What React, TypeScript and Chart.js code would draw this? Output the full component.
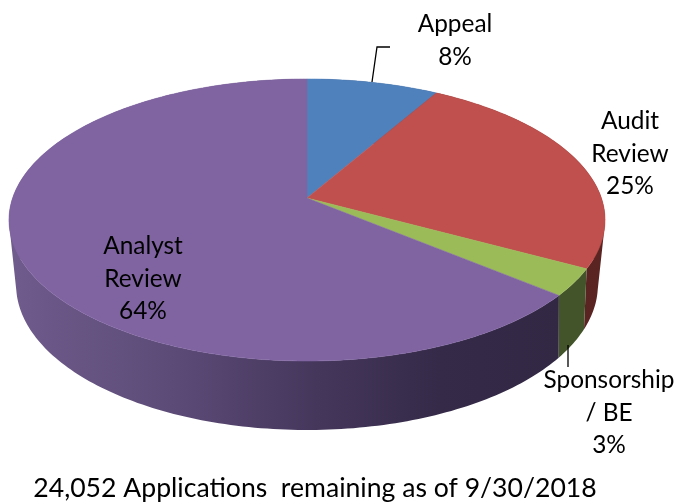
import React, { useEffect, useRef } from "react";
import { Chart, registerables } from "chart.js";

Chart.register(...registerables);

const categories = ["Appeal", "Audit Review", "Sponsorship / BE", "Analyst Review"];
const values = [8.3, 24.6, 3.1, 64];
const faceColors = ["#4F81BD", "#C0504D", "#9BBB59", "#8064A2"];
const labelLines = [["Appeal", "8%"], ["Audit", "Review", "25%"], ["Sponsorship", "/ BE", "3%"], ["Analyst", "Review", "64%"]];
const caption = "24,052 Applications  remaining as of 9/30/2018";

const wallStops: [number, string][][] = [
  [[0, "#2c4a70"], [1, "#2c4a70"]],
  [[0, "#4a1f1e"], [1, "#5a2422"]],
  [[0, "#43542a"], [1, "#43542a"]],
  [[0, "#6f5b8c"], [0.3, "#5b4a76"], [0.55, "#45375c"], [0.78, "#352a48"], [1, "#322844"]],
];

const labelAnchors = [[455, 24], [630, 121], [609, 380], [143, 246]];
const leaders = [
  [[390, 47], [377, 47], [372, 82]],
  [[568, 345], [568, 367]],
];

const CX = 307;
const top = { R: 294.4, S: 137.6, k: 0.156, y0: 198 };
const bottom = { R: 285, S: 139.2, k: 0.2, y0: 256 };

function project(p: typeof top, theta: number): [number, number] {
  const u = Math.sin(theta);
  const v = -Math.cos(theta);
  const w = 1 - p.k * v;
  return [CX + (p.R * u) / w, p.y0 + (p.S * v) / w];
}

function addPoly(ctx: CanvasRenderingContext2D, pts: [number, number][]) {
  let area = 0;
  pts.forEach(([x, y], i) => {
    const [nx, ny] = pts[(i + 1) % pts.length];
    area += x * ny - nx * y;
  });
  const ordered = area < 0 ? pts.slice().reverse() : pts;
  ordered.forEach(([x, y], i) => (i ? ctx.lineTo(x, y) : ctx.moveTo(x, y)));
  ctx.closePath();
}

function arcSamples(a0: number, a1: number): number[] {
  const n = Math.max(2, Math.ceil(((a1 - a0) / Math.PI) * 180));
  const out: number[] = [];
  for (let i = 0; i <= n; i++) out.push(a0 + ((a1 - a0) * i) / n);
  return out;
}

const pie3d = {
  id: "pie3d",
  beforeDatasetsDraw(chart: any) {
    const ctx: CanvasRenderingContext2D = chart.ctx;
    const arcs = chart.getDatasetMeta(0).data;
    ctx.save();
    // side walls: one consistently wound quad per angular step, filled as a single path
    const xMin = 16;
    const xMax = 598;
    arcs.forEach((arc: any, i: number) => {
      const a0 = arc.startAngle + Math.PI / 2;
      const a1 = arc.endAngle + Math.PI / 2;
      const ts = arcSamples(a0, a1);
      const xs = ts.map((t) => project(top, t)[0]);
      const lo = i === 3 ? xMin : Math.min(...xs);
      const hi = i === 3 ? 560 : Math.min(Math.max(...xs), xMax);
      const g = ctx.createLinearGradient(lo, 0, hi, 0);
      wallStops[i].forEach(([o, c]) => g.addColorStop(o, c));
      ctx.fillStyle = g;
      ctx.beginPath();
      for (let j = 0; j < ts.length - 1; j++) {
        addPoly(ctx, [project(top, ts[j]), project(top, ts[j + 1]), project(bottom, ts[j + 1]), project(bottom, ts[j])]);
      }
      ctx.fill("nonzero");
    });
    // top faces
    arcs.forEach((arc: any, i: number) => {
      const a0 = arc.startAngle + Math.PI / 2;
      const a1 = arc.endAngle + Math.PI / 2;
      const pts: [number, number][] = [[CX, top.y0], ...arcSamples(a0, a1).map((t) => project(top, t))];
      ctx.fillStyle = faceColors[i];
      ctx.strokeStyle = faceColors[i];
      ctx.lineWidth = 0.5;
      ctx.beginPath();
      addPoly(ctx, pts);
      ctx.fill();
      ctx.stroke();
    });
    ctx.restore();
    return false;
  },
  afterDraw(chart: any) {
    const ctx: CanvasRenderingContext2D = chart.ctx;
    ctx.save();
    ctx.strokeStyle = "#000";
    ctx.lineWidth = 1.3;
    leaders.forEach((l) => {
      ctx.beginPath();
      l.forEach(([x, y], i) => (i ? ctx.lineTo(x, y) : ctx.moveTo(x, y)));
      ctx.stroke();
    });
    ctx.fillStyle = "#000";
    ctx.font = '24.4px Lato, "Open Sans", sans-serif';
    ctx.textAlign = "center";
    ctx.textBaseline = "middle";
    labelLines.forEach((lines, i) => {
      const [x, y] = labelAnchors[i];
      lines.forEach((t, j) => ctx.fillText(t, x, y + j * 32.8));
    });
    ctx.font = '26.6px Lato, "Open Sans", sans-serif';
    ctx.fillText(caption, 315, 488);
    ctx.restore();
  },
};

export default function App() {
  const ref = useRef<HTMLCanvasElement>(null);
  useEffect(() => {
    const chart = new Chart(ref.current!, {
      type: "pie",
      data: {
        labels: categories,
        datasets: [{ data: values, backgroundColor: faceColors, borderWidth: 0 }],
      },
      options: {
        responsive: false,
        animation: false,
        layout: { padding: 0 },
        plugins: { legend: { display: false }, tooltip: { enabled: false }, title: { display: false } },
      },
      plugins: [pie3d],
    } as any);
    return () => chart.destroy();
  }, []);
  return (
    <canvas
      ref={ref}
      width={674}
      height={502}
      style={{ position: "absolute", left: 0, top: 0, display: "block", width: 674, height: 502, background: "#fff" }}
    />
  );
}
